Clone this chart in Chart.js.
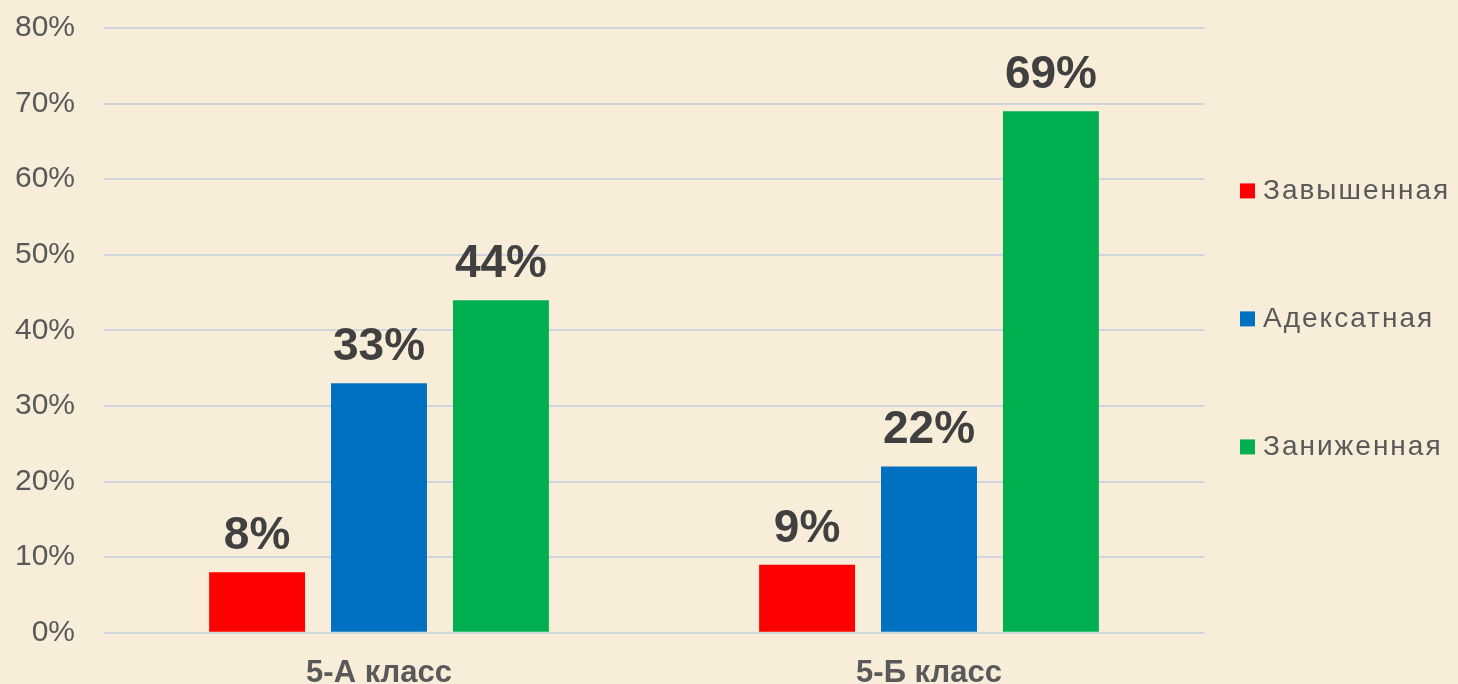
<!DOCTYPE html>
<html>
<head>
<meta charset="utf-8">
<script src="https://cdn.jsdelivr.net/npm/chart.js@4"></script>
<style>
  html, body { margin: 0; padding: 0; overflow: hidden; background: #f7edd8; }
  #wrap { width: 1458px; height: 706px; position: relative; }
</style>
</head>
<body>
<div id="wrap"><canvas id="chart"></canvas></div>
<script>
// Data
const classes = ['5-А класс', '5-Б класс'];
const seriesNames = ['Завышенная', 'Адексатная', 'Заниженная'];
const zavyshennaya = [8, 9];
const adekvatnaya = [33, 22];
const zanizhennaya = [44, 69];
const seriesColors = ['#ff0000', '#0070c0', '#00b050'];
const yTicks = [0, 10, 20, 30, 40, 50, 60, 70, 80];

const textGray = '#595959';
const fontFamily = '"Liberation Sans", Arial, sans-serif';

// Value labels above bars
const valueLabels = {
    id: 'valueLabels',
    afterDatasetsDraw(chart) {
        const ctx = chart.ctx;
        ctx.save();
        ctx.font = 'bold 46px ' + fontFamily;
        ctx.fillStyle = '#404040';
        ctx.textAlign = 'center';
        ctx.textBaseline = 'alphabetic';
        chart.data.datasets.forEach((ds, i) => {
            chart.getDatasetMeta(i).data.forEach((bar, j) => {
                ctx.fillText(ds.data[j] + '%', bar.x, bar.y - 23);
            });
        });
        ctx.restore();
    }
};

// Legend on the right, spread out like the original
const sideLegend = {
    id: 'sideLegend',
    afterDraw(chart) {
        const ctx = chart.ctx;
        const area = chart.chartArea;
        const mid = (area.top + area.bottom) / 2 - 12;
        const step = 128;
        ctx.save();
        ctx.font = '28px ' + fontFamily;
        ctx.letterSpacing = '2px';
        ctx.textBaseline = 'middle';
        ctx.textAlign = 'left';
        chart.data.datasets.forEach((ds, i) => {
            const y = mid + (i - 1) * step;
            const x = 1240;
            ctx.fillStyle = ds.backgroundColor;
            ctx.fillRect(x, y - 7, 15, 15);
            ctx.fillStyle = textGray;
            ctx.fillText(ds.label, x + 23, y + 1);
        });
        ctx.restore();
    }
};

const ctx = document.getElementById('chart').getContext('2d');
const chart = new Chart(ctx, {
    type: 'bar',
    data: {
        labels: classes,
        datasets: [
            { label: seriesNames[0], data: zavyshennaya, backgroundColor: seriesColors[0] },
            { label: seriesNames[1], data: adekvatnaya, backgroundColor: seriesColors[1] },
            { label: seriesNames[2], data: zanizhennaya, backgroundColor: seriesColors[2] }
        ]
    },
    options: {
        responsive: true,
        maintainAspectRatio: false,
        animation: false,
        datasets: {
            bar: { categoryPercentage: 0.665, barPercentage: 0.787 }
        },
        layout: { padding: { left: 15, right: 254, top: 28, bottom: 0 } },
        plugins: {
            legend: { display: false },
            tooltip: { enabled: false }
        },
        scales: {
            x: {
                grid: { display: false },
                border: { display: false },
                ticks: {
                    color: textGray,
                    padding: 14,
                    font: { family: fontFamily, size: 31, weight: 'bold' }
                }
            },
            y: {
                min: yTicks[0],
                max: yTicks[yTicks.length - 1],
                afterBuildTicks(axis) {
                    axis.ticks = yTicks.map(v => ({ value: v }));
                },
                afterFit(axis) {
                    axis.width = 89;
                    axis.paddingTop = 0;
                    axis.paddingBottom = 0;
                },
                grid: { color: '#d0d4dd', lineWidth: 2, drawTicks: false },
                border: { display: false },
                ticks: {
                    color: textGray,
                    padding: 29,
                    font: { family: fontFamily, size: 30 },
                    callback: v => v + '%'
                }
            }
        }
    },
    plugins: [valueLabels, sideLegend]
});
</script>
</body>
</html>
